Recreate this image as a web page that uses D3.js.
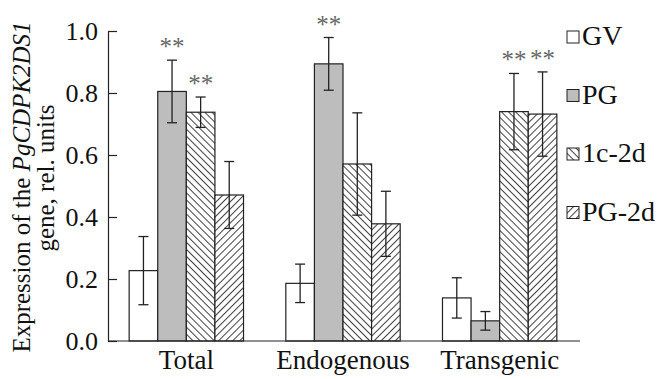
<!DOCTYPE html>
<html>
<head>
<meta charset="utf-8">
<script src="https://cdn.jsdelivr.net/npm/d3@7"></script>
<style>
  body { margin: 0; background: #fff; }
</style>
</head>
<body>
<svg id="chart" width="663" height="379"></svg>
<script>
// data
const groups = ["Total", "Endogenous", "Transgenic"];
const series = ["GV", "PG", "1c-2d", "PG-2d"];
const gv = [0.227, 0.186, 0.139];
const pg = [0.805, 0.894, 0.065];
const c1d2 = [0.738, 0.571, 0.740];
const pg2d = [0.471, 0.378, 0.732];
const gvErr = [0.110, 0.062, 0.065];
const pgErr = [0.101, 0.085, 0.030];
const c1d2Err = [0.049, 0.165, 0.123];
const pg2dErr = [0.108, 0.105, 0.136];
// which bars carry "**"
const starred = [[0, 1], [0, 2], [1, 1], [2, 2], [2, 3]];
const yTicks = [0, 0.2, 0.4, 0.6, 0.8, 1.0];

const values = [gv, pg, c1d2, pg2d];
const errs = [gvErr, pgErr, c1d2Err, pg2dErr];
const FONT = '"Liberation Serif", "Times New Roman", serif';

const rows = [];
groups.forEach((g, gi) => {
  series.forEach((s, si) => {
    rows.push({ group: g, gi, series: s, si, value: values[si][gi], err: errs[si][gi] });
  });
});

const svg = d3.select("#chart");

const marginLeft = 108, marginRight = 85, marginTop = 31, marginBottom = 38;
const width = 663, height = 379;

const x0 = d3.scaleBand()
  .domain(groups)
  .range([marginLeft, width - marginRight])
  .paddingInner(0.27)
  .paddingOuter(0.135);

const x1 = d3.scaleBand()
  .domain(series)
  .range([0, x0.bandwidth()]);

const y = d3.scaleLinear()
  .domain([0, 1])
  .range([height - marginBottom, marginTop]);

// hatch patterns
const defs = svg.append("defs");
const addHatch = (id, angle) => {
  const p = defs.append("pattern")
    .attr("id", id)
    .attr("patternUnits", "userSpaceOnUse")
    .attr("width", 5).attr("height", 5)
    .attr("patternTransform", `rotate(${angle})`);
  p.append("rect").attr("width", 5).attr("height", 5).attr("fill", "#fff");
  p.append("line")
    .attr("x1", 0).attr("y1", 0).attr("x2", 0).attr("y2", 5)
    .attr("stroke", "#111").attr("stroke-width", 1.6);
};
addHatch("hatchBack", -45);
addHatch("hatchFwd", 45);

const fills = {
  "GV": "#fff",
  "PG": "#bdbdbd",
  "1c-2d": "url(#hatchBack)",
  "PG-2d": "url(#hatchFwd)"
};

// bars
svg.append("g")
  .selectAll("rect")
  .data(rows)
  .join("rect")
    .attr("x", d => x0(d.group) + x1(d.series))
    .attr("y", d => y(d.value))
    .attr("width", x1.bandwidth())
    .attr("height", d => y(0) - y(d.value))
    .attr("fill", d => fills[d.series])
    .attr("stroke", "#222")
    .attr("stroke-width", 1.2);

// error bars
const eg = svg.append("g").attr("stroke", "#222").attr("stroke-width", 1.3);
rows.forEach(d => {
  const cx = x0(d.group) + x1(d.series) + x1.bandwidth() / 2;
  const top = y(d.value + d.err), bot = y(d.value - d.err);
  eg.append("line").attr("x1", cx).attr("x2", cx).attr("y1", top).attr("y2", bot);
  eg.append("line").attr("x1", cx - 5).attr("x2", cx + 5).attr("y1", top).attr("y2", top);
  eg.append("line").attr("x1", cx - 5).attr("x2", cx + 5).attr("y1", bot).attr("y2", bot);
});

// significance marks
svg.append("g")
  .selectAll("text")
  .data(starred.map(([gi, si]) => rows.find(r => r.gi === gi && r.si === si)))
  .join("text")
    .attr("x", d => x0(d.group) + x1(d.series) + x1.bandwidth() / 2)
    .attr("y", d => y(d.value + d.err) - 5)
    .attr("text-anchor", "middle")
    .style("font-family", FONT)
    .style("font-size", "25px")
    .style("fill", "#666")
    .text("**");

// axes
const yAxis = svg.append("g")
  .attr("transform", `translate(${marginLeft},0)`)
  .call(d3.axisRight(y).tickValues(yTicks).tickFormat(d3.format(".1f")).tickSize(9).tickSizeOuter(0));
yAxis.select(".domain").attr("stroke", "#222").attr("stroke-width", 1.2);
yAxis.selectAll(".tick line").attr("stroke", "#222").attr("stroke-width", 1.2);
yAxis.selectAll(".tick text")
  .attr("x", -10)
  .attr("text-anchor", "end")
  .style("font-family", FONT)
  .style("font-size", "26px")
  .style("fill", "#111");

const xAxis = svg.append("g")
  .attr("transform", `translate(0,${y(0)})`)
  .call(d3.axisBottom(x0).tickSize(0).tickSizeOuter(0));
xAxis.select(".domain").attr("stroke", "#222").attr("stroke-width", 1.2)
  .attr("d", `M${marginLeft},0H${width - marginRight + 2}`);
xAxis.selectAll(".tick text")
  .attr("y", 9)
  .style("font-family", FONT)
  .style("font-size", "27px")
  .style("fill", "#111");

// y label
const yl = svg.append("text")
  .attr("transform", `translate(30,${187}) rotate(-90)`)
  .attr("text-anchor", "middle")
  .style("font-family", FONT)
  .style("font-size", "25px")
  .style("fill", "#111");
yl.append("tspan").text("Expression of the ");
yl.append("tspan").style("font-style", "italic").text("PgCDPK2DS1");
svg.append("text")
  .attr("transform", `translate(54,${178}) rotate(-90)`)
  .attr("text-anchor", "middle")
  .style("font-family", FONT)
  .style("font-size", "25px")
  .style("fill", "#111")
  .text("gene, rel. units");

// legend
const legend = svg.append("g")
  .selectAll("g")
  .data(series)
  .join("g")
    .attr("transform", (d, i) => `translate(567,${37 + i * 58.5})`);
legend.append("rect")
  .attr("x", 0).attr("y", -6)
  .attr("width", 12).attr("height", 12)
  .attr("fill", d => fills[d])
  .attr("stroke", "#222")
  .attr("stroke-width", 1);
legend.append("text")
  .attr("x", 15).attr("y", 8)
  .style("font-family", FONT)
  .style("font-size", "28px")
  .style("fill", "#111")
  .text(d => d);
</script>
</body>
</html>
